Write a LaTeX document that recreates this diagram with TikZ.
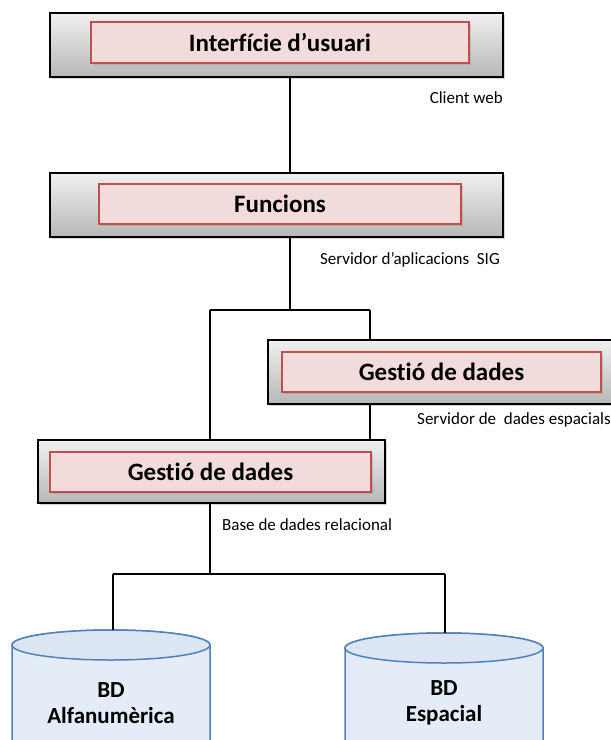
\documentclass[tikz,border=0pt]{standalone}
\usepackage{fontspec}
\setmainfont[Ligatures=CommonOff]{Carlito}
\usetikzlibrary{shadows}
\definecolor{tierborder}{HTML}{000000}
\definecolor{modfill}{HTML}{F2DCDB}
\definecolor{modborder}{HTML}{C0504D}
\definecolor{dbfill}{HTML}{E4ECF8}
\definecolor{dbtop}{HTML}{DCE6F2}
\definecolor{dbborder}{HTML}{4F81BD}
\tikzset{
  tier/.style={draw=tierborder, line width=1.3pt, top color=white!94!black,
    bottom color=white!72!black, inner sep=0pt,
    drop shadow={shadow xshift=2pt, shadow yshift=-2pt, opacity=0.35}},
  module/.style={draw=modborder, line width=1.6pt, fill=modfill, inner sep=0pt,
    font=\fontsize{25}{28}\selectfont\bfseries,
    drop shadow={shadow xshift=1.5pt, shadow yshift=-1.5pt, opacity=0.3}},
  tag/.style={font=\fontsize{17}{20}\selectfont, inner sep=0pt},
  link/.style={line width=1.3pt},
  dbbody/.style={draw=dbborder, line width=1.5pt, fill=dbfill},
  dbcap/.style={draw=dbborder, line width=1.5pt, fill=dbtop},
  dblabel/.style={font=\fontsize{23}{26}\selectfont\bfseries, align=center, inner sep=0pt}
}
\begin{document}
\begin{tikzpicture}[x=1pt,y=-1pt]
\useasboundingbox (0,0) rectangle (611,740);
\clip (0,0) rectangle (611,740);

% client tier
\node[tier, minimum width=453pt, minimum height=64pt] (t1) at (276.5,45) {};
\node[module, minimum width=378pt, minimum height=41pt] (m1) at (280,42.5) {Interfície d’usuari};
\node[tag, anchor=east] (l1) at (503,98) {Client web};

% application server tier
\node[tier, minimum width=453pt, minimum height=64pt] (t2) at (276.5,205) {};
\node[module, minimum width=362pt, minimum height=40pt] (m2) at (280,204) {Funcions};
\node[tag, anchor=east] (l2) at (500,260) {Servidor d’aplicacions\ \ SIG};

% spatial data server tier
\node[tier, minimum width=345pt, minimum height=64pt] (t4) at (440.5,372) {};
\node[module, minimum width=319pt, minimum height=40pt] (m4) at (441.5,372) {Gestió de dades};
\node[tag, anchor=east] (l4) at (611,420) {Servidor de\ \ dades espacials};

% relational database tier
\node[tier, minimum width=347pt, minimum height=63pt] (t3) at (211.5,471.5) {};
\node[module, minimum width=321pt, minimum height=40pt] (m3) at (210.5,472) {Gestió de dades};
\node[tag, anchor=west] (l3) at (222,525) {Base de dades relacional};

% junction points
\coordinate (j1) at (290,310);
\coordinate (jl) at (210,310);
\coordinate (jr) at (370,310);
\coordinate (j2) at (210,574);
\coordinate (jdl) at (113,574);
\coordinate (jdr) at (445,574);

% databases
\path[dbbody] (12,760) -- (12,645) arc[start angle=180, end angle=360, x radius=99, y radius=15] -- (210,760);
\draw[dbcap] (111,645) ellipse[x radius=99, y radius=15];
\coordinate (d1) at (113,630);
\node[dblabel] (b1) at (111,703) {BD\\Alfanumèrica};

\path[dbbody] (345,760) -- (345,648) arc[start angle=180, end angle=360, x radius=99, y radius=15] -- (543,760);
\draw[dbcap] (444,648) ellipse[x radius=99, y radius=15];
\coordinate (d2) at (445,633);
\node[dblabel] (b2) at (444,703) {BD\\Espacial};

% connectors
\draw[link] (t1.south -| j1) -- (t2.north -| j1);
\draw[link] (t2.south -| j1) -- (j1);
\draw[link] (jl) -- (jr);
\draw[link] (jl) -- (t3.north -| jl);
\draw[link] (jr) -- (t4.north -| jr);
\draw[link] (t4.south -| jr) -- (t3.north -| jr);
\draw[link] (t3.south -| j2) -- (j2);
\draw[link] (jdl) -- (jdr);
\draw[link] (jdl) -- (d1);
\draw[link] (jdr) -- (d2);
\end{tikzpicture}
\end{document}
